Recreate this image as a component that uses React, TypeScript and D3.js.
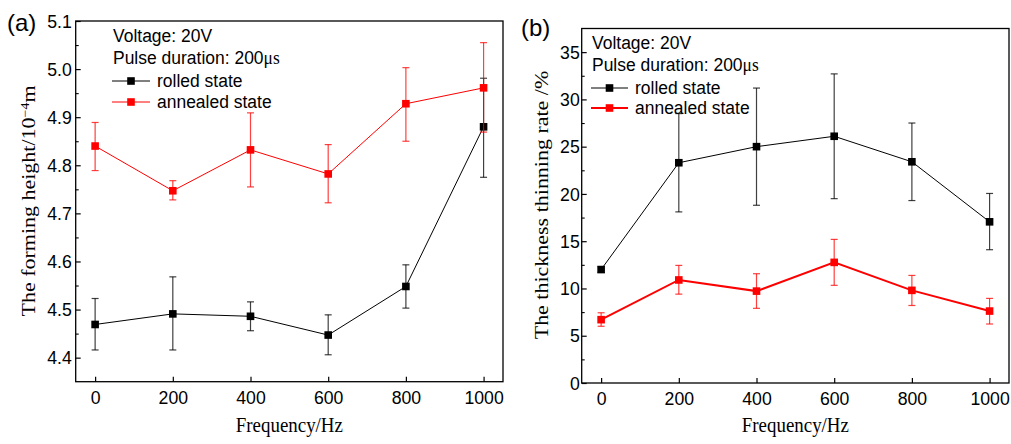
import React, { useEffect, useRef } from 'react';
import * as d3 from 'd3';

// frequency (Hz) on the x axis of both panels
const freq = [0, 200, 400, 600, 800, 1000];
const xTicks = [0, 200, 400, 600, 800, 1000];

// (a) forming height, 10^-4 m
const heightRolled = [4.469, 4.491, 4.486, 4.447, 4.548, 4.88];
const heightRolledLo = [4.416, 4.416, 4.456, 4.406, 4.503, 4.775];
const heightRolledHi = [4.523, 4.568, 4.516, 4.489, 4.593, 4.981];
const heightAnnealed = [4.84, 4.747, 4.832, 4.782, 4.928, 4.961];
const heightAnnealedLo = [4.789, 4.728, 4.755, 4.722, 4.85, 4.869];
const heightAnnealedHi = [4.889, 4.768, 4.909, 4.843, 5.003, 5.055];
const heightTicks = [4.4, 4.5, 4.6, 4.7, 4.8, 4.9, 5.0, 5.1];
const heightMinor = [4.45, 4.55, 4.65, 4.75, 4.85, 4.95, 5.05];

// (b) thickness thinning rate, %
const thinRolled = [12.0, 23.3, 25.0, 26.1, 23.4, 17.05];
const thinRolledLo = [11.7, 18.1, 18.8, 19.5, 19.3, 14.1];
const thinRolledHi = [12.3, 28.5, 31.2, 32.7, 27.5, 20.05];
const thinAnnealed = [6.7, 10.9, 9.72, 12.76, 9.8, 7.61];
const thinAnnealedLo = [6.0, 9.4, 7.9, 10.33, 8.2, 6.24];
const thinAnnealedHi = [7.43, 12.44, 11.56, 15.19, 11.38, 8.95];
const thinTicks = [0, 5, 10, 15, 20, 25, 30, 35];
const thinMinor = [2.5, 7.5, 12.5, 17.5, 22.5, 27.5, 32.5];

const legendNames = ['rolled state', 'annealed state'];

const SANS = 'Arial, "Liberation Sans", sans-serif';
const SERIF = '"Times New Roman", "Liberation Serif", serif';
// the source figure is squeezed horizontally a bit
const K_TICK = 0.93;
const K_LEG = 0.92;
const K_TITLE = 0.86;

function putText(g, x, y, str, size, family, k, anchor = 'start') {
	return g
		.append('text')
		.attr('transform', `translate(${x},${y}) scale(${k},1)`)
		.attr('font-size', size)
		.attr('font-family', family)
		.attr('text-anchor', anchor)
		.attr('fill', '#000')
		.text(str);
}

function drawPanel(svg, p) {
	const x = d3.scaleLinear().domain([-50, 1050]).range([p.left, p.right]);
	const y = d3.scaleLinear().domain(p.yDomain).range([p.bottom, p.top]);
	const g = svg.append('g');

	// x axis, ticks pointing in
	const xAxis = d3
		.axisBottom(x)
		.tickValues(xTicks)
		.tickFormat(d3.format('d'))
		.tickSizeInner(-5)
		.tickSizeOuter(0)
		.tickPadding(9);
	const gx = g.append('g').attr('transform', `translate(0,${p.bottom})`).call(xAxis);
	gx.select('.domain').remove();
	gx.selectAll('.tick line').attr('stroke', '#000').attr('stroke-width', 1.2);
	gx.selectAll('.tick text')
		.attr('font-size', 19)
		.attr('font-family', SANS)
		.attr('fill', '#000')
		.attr('transform', `scale(${K_TICK},1)`);

	// y axis, major + minor
	const yAxis = d3
		.axisLeft(y)
		.tickValues(p.yTicks)
		.tickFormat(p.yFormat)
		.tickSizeInner(-5)
		.tickSizeOuter(0)
		.tickPadding(p.labelGap / K_TICK);
	const gy = g.append('g').attr('transform', `translate(${p.left},0)`).call(yAxis);
	gy.select('.domain').remove();
	gy.selectAll('.tick line').attr('stroke', '#000').attr('stroke-width', 1.2);
	gy.selectAll('.tick text')
		.attr('font-size', 19)
		.attr('font-family', SANS)
		.attr('fill', '#000')
		.attr('transform', `scale(${K_TICK},1)`);

	const gm = g
		.append('g')
		.attr('transform', `translate(${p.left},0)`)
		.call(d3.axisLeft(y).tickValues(p.yMinor).tickFormat(() => '').tickSizeInner(-3).tickSizeOuter(0));
	gm.select('.domain').remove();
	gm.selectAll('.tick line').attr('stroke', '#000').attr('stroke-width', 1.1);

	// frame
	g.append('rect')
		.attr('x', p.left)
		.attr('y', p.top)
		.attr('width', p.right - p.left)
		.attr('height', p.bottom - p.top)
		.attr('fill', 'none')
		.attr('stroke', '#000')
		.attr('stroke-width', 1.3);

	const line = d3
		.line()
		.x(d => x(d[0]))
		.y(d => y(d[1]));

	p.series.forEach(s => {
		const pts = freq.map((f, i) => [f, s.values[i]]);
		g.append('path')
			.attr('d', line(pts))
			.attr('fill', 'none')
			.attr('stroke', s.color)
			.attr('stroke-width', s.width);

		// error bars
		const eb = g.append('g').attr('stroke', s.color).attr('stroke-opacity', 0.75).attr('stroke-width', 1.2);
		freq.forEach((f, i) => {
			const cx = x(f);
			eb.append('line').attr('x1', cx).attr('x2', cx).attr('y1', y(s.lo[i])).attr('y2', y(s.hi[i]));
			eb.append('line').attr('x1', cx - 3.5).attr('x2', cx + 3.5).attr('y1', y(s.lo[i])).attr('y2', y(s.lo[i]));
			eb.append('line').attr('x1', cx - 3.5).attr('x2', cx + 3.5).attr('y1', y(s.hi[i])).attr('y2', y(s.hi[i]));
		});

		g.selectAll(null)
			.data(pts)
			.enter()
			.append('rect')
			.attr('x', d => x(d[0]) - 3.8)
			.attr('y', d => y(d[1]) - 3.8)
			.attr('width', 7.6)
			.attr('height', 7.6)
			.attr('fill', s.color);
	});

	// legend block
	const lg = p.legend;
	putText(g, lg.x, lg.rows[0], 'Voltage: 20V', 19, SANS, K_LEG);
	const pulse = putText(g, lg.x, lg.rows[1], 'Pulse duration: 200', 19, SANS, K_LEG);
	pulse.append('tspan').attr('font-family', SERIF).text('μs');
	p.series.forEach((s, i) => {
		const ly = lg.rows[2 + i];
		const my = ly - 6;
		g.append('line')
			.attr('x1', lg.lineX[0])
			.attr('x2', lg.lineX[1])
			.attr('y1', my)
			.attr('y2', my)
			.attr('stroke', s.color)
			.attr('stroke-width', s.width);
		g.append('rect')
			.attr('x', (lg.lineX[0] + lg.lineX[1]) / 2 - 3.8)
			.attr('y', my - 3.8)
			.attr('width', 7.6)
			.attr('height', 7.6)
			.attr('fill', s.color);
		putText(g, lg.textX, ly, legendNames[i], 19, SANS, K_LEG);
	});

	// panel tag and axis titles
	putText(g, p.tag[0], p.tag[1], p.tagText, 24, SANS, 1);
	putText(g, (p.left + p.right) / 2, 432, 'Frequency/Hz', 22, SERIF, K_TITLE, 'middle');

	const yl = g
		.append('text')
		.attr('transform', `translate(${p.yLabel[0]},${p.yLabel[1]}) scale(${K_TITLE},1) rotate(-90)`)
		.attr('font-size', 22)
		.attr('font-family', SERIF)
		.attr('text-anchor', 'middle')
		.attr('fill', '#000');
	p.yTitle.forEach(part => {
		const t = yl.append('tspan').text(part.text);
		if (part.sup) t.attr('baseline-shift', 'super').attr('font-size', 14);
	});
}

export default function App() {
	const ref = useRef(null);

	useEffect(() => {
		const svg = d3.select(ref.current);
		svg.selectAll('*').remove();

		drawPanel(svg, {
			left: 75.7,
			right: 503,
			top: 21,
			bottom: 381.7,
			yDomain: [4.35, 5.1],
			yTicks: heightTicks,
			yMinor: heightMinor,
			yFormat: d3.format('.1f'),
			labelGap: 4,
			series: [
				{ values: heightRolled, lo: heightRolledLo, hi: heightRolledHi, color: '#000000', width: 1 },
				{ values: heightAnnealed, lo: heightAnnealedLo, hi: heightAnnealedHi, color: '#ff0000', width: 1 },
			],
			legend: { x: 113, rows: [42, 64, 87, 108], lineX: [112, 150], textX: 157 },
			tag: [7, 31],
			tagText: '(a)',
			yLabel: [35, 201],
			yTitle: [{ text: 'The forming height/10' }, { text: '−4', sup: true }, { text: 'm' }],
		});

		drawPanel(svg, {
			left: 581.7,
			right: 1009,
			top: 28.5,
			bottom: 383,
			yDomain: [0, 37.5],
			yTicks: thinTicks,
			yMinor: thinMinor,
			yFormat: d3.format('d'),
			labelGap: 2,
			series: [
				{ values: thinRolled, lo: thinRolledLo, hi: thinRolledHi, color: '#000000', width: 1 },
				{ values: thinAnnealed, lo: thinAnnealedLo, hi: thinAnnealedHi, color: '#ff0000', width: 2 },
			],
			legend: { x: 592, rows: [49, 71, 94, 114], lineX: [591, 628], textX: 635 },
			tag: [521, 36],
			tagText: '(b)',
			yLabel: [548, 205],
			yTitle: [{ text: 'The thickness thinning rate /%' }],
		});
	}, []);

	return (
		<svg
			ref={ref}
			width={1011}
			height={444}
			style={{ position: 'absolute', left: 0, top: 0, background: '#fff' }}
		/>
	);
}
